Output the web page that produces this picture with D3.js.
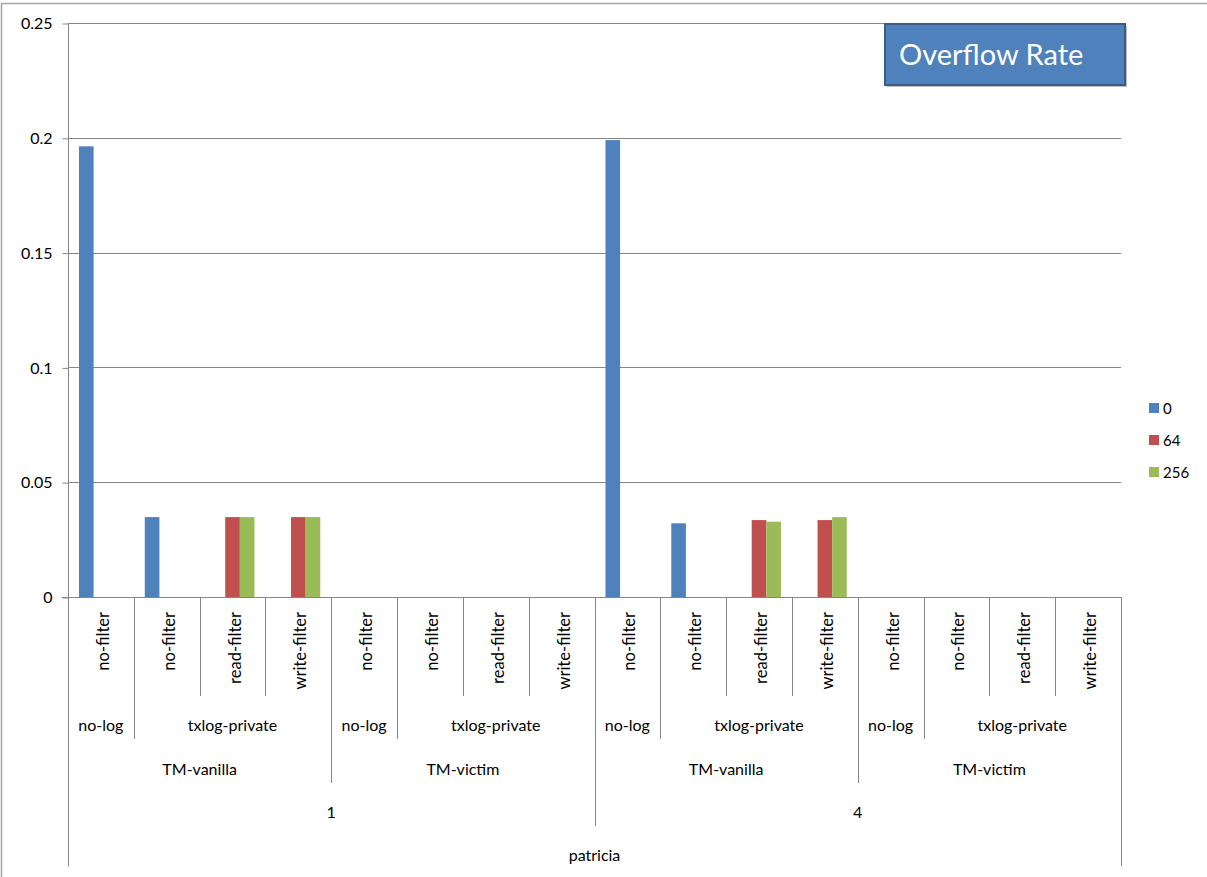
<!DOCTYPE html>
<html>
<head>
<meta charset="utf-8">
<script src="https://cdn.jsdelivr.net/npm/d3@7"></script>
<style>
  html, body { margin: 0; padding: 0; background: #fff; }
  svg { display: block; font-family: Lato, "Open Sans", sans-serif; }
</style>
</head>
<body>
<svg id="chart" width="1207" height="877"></svg>
<script>
// Category hierarchy (outermost first)
const benchmarks = ["patricia"];
const threads = ["1", "4"];
const tmVariants = ["TM-vanilla", "TM-victim"];
const logGroups = [
  { name: "no-log", filters: ["no-filter"] },
  { name: "txlog-private", filters: ["no-filter", "read-filter", "write-filter"] }
];

// Series (legend keys) and their values per leaf category, in leaf order
const seriesNames = ["0", "64", "256"];
const seriesColors = ["#4F81BD", "#C0504D", "#9BBB59"];
const values0 = [0.1963, 0.0348, null, null, null, null, null, null,
                 0.1990, 0.0321, null, null, null, null, null, null];
const values64 = [null, null, 0.0348, 0.0348, null, null, null, null,
                  null, null, 0.0335, 0.0335, null, null, null, null];
const values256 = [null, null, 0.0348, 0.0348, null, null, null, null,
                   null, null, 0.0328, 0.0348, null, null, null, null];
const yTicks = [0, 0.05, 0.1, 0.15, 0.2, 0.25];
const yTickLabels = ["0", "0.05", "0.1", "0.15", "0.2", "0.25"];
const chartTitle = "Overflow Rate";

const seriesValues = [values0, values64, values256];

// Flatten the hierarchy into leaf categories
const leaves = [];
benchmarks.forEach(b => threads.forEach(t => tmVariants.forEach(tm =>
  logGroups.forEach(lg => lg.filters.forEach(f =>
    leaves.push({ bench: b, thread: t, tm: tm, log: lg.name, filter: f }))))));

const svg = d3.select("#chart");
const plotLeft = 68, plotRight = 1121, plotTop = 23, plotBottom = 597;
const axisColor = "#868686";
const textColor = "#000";

// Outer chart frame
svg.append("line").attr("x1", 1.5).attr("x2", 1.5).attr("y1", 3).attr("y2", 877)
  .attr("stroke", "#a6a6a6").attr("stroke-width", 1.5);
svg.append("line").attr("x1", 1).attr("x2", 1207).attr("y1", 3.5).attr("y2", 3.5)
  .attr("stroke", "#a6a6a6").attr("stroke-width", 1.5);

const x = d3.scaleBand().domain(d3.range(leaves.length)).range([plotLeft, plotRight]).padding(0);
const xInner = d3.scaleBand().domain(seriesNames).range([0, x.bandwidth()])
  .paddingInner(0).paddingOuter(0.75);
const y = d3.scaleLinear().domain([0, 0.25]).range([plotBottom, plotTop]);

// Gridlines
svg.append("g").selectAll("line").data(yTicks.filter(v => v > 0)).join("line")
  .attr("x1", plotLeft).attr("x2", plotRight)
  .attr("y1", d => Math.round(y(d)) + 0.5).attr("y2", d => Math.round(y(d)) + 0.5)
  .attr("stroke", axisColor).attr("stroke-width", 1);

// Y axis
const yAxis = d3.axisLeft(y).tickValues(yTicks)
  .tickFormat((d, i) => yTickLabels[i]).tickSize(6).tickPadding(10);
const gy = svg.append("g").attr("transform", `translate(${plotLeft + 0.5},0.5)`).call(yAxis);
gy.select(".domain").attr("stroke", axisColor).attr("d", `M0,${plotTop - 0.5}V866`);
gy.selectAll(".tick line").attr("stroke", axisColor);
gy.selectAll(".tick text").attr("fill", textColor).style("font-size", "16px")
  .style("font-family", "Lato, sans-serif");

// Bars
seriesNames.forEach((s, si) => {
  svg.append("g").selectAll("rect")
    .data(seriesValues[si].map((v, i) => ({ v, i })).filter(d => d.v != null && d.v > 0))
    .join("rect")
    .attr("x", d => x(d.i) + xInner(s))
    .attr("width", xInner.bandwidth())
    .attr("y", d => y(d.v))
    .attr("height", d => y(0) - y(d.v))
    .attr("fill", seriesColors[si]);
});

// X axis baseline
svg.append("line").attr("x1", plotLeft - 6).attr("x2", plotRight)
  .attr("y1", plotBottom + 0.5).attr("y2", plotBottom + 0.5).attr("stroke", axisColor);

// Multi-level category separators
const perTm = leaves.length / (threads.length * tmVariants.length);
const perThreadLeaves = leaves.length / threads.length;
function sepDepth(i) {
  if (i === 0 || i === leaves.length) return 866;
  if (i % perThreadLeaves === 0) return 826;
  if (i % perTm === 0) return 783;
  if (i % perTm === logGroups[0].filters.length) return 739;
  return 696;
}
const edgeX = i => i === leaves.length ? plotRight : x(i);
svg.append("g").selectAll("line").data(d3.range(leaves.length + 1)).join("line")
  .attr("x1", i => Math.round(edgeX(i)) + 0.5).attr("x2", i => Math.round(edgeX(i)) + 0.5)
  .attr("y1", plotBottom).attr("y2", i => sepDepth(i))
  .attr("stroke", axisColor);

// Leaf labels (rotated)
svg.append("g").selectAll("text").data(leaves).join("text")
  .attr("transform", (d, i) => `translate(${x(i) + x.bandwidth() / 2 + 2},612) rotate(-90)`)
  .attr("text-anchor", "end").attr("dominant-baseline", "central")
  .style("font-size", "16.5px").attr("fill", textColor)
  .text(d => d.filter);

// Group labels for the outer levels
function groupSpans(key) {
  const spans = [];
  leaves.forEach((d, i) => {
    const id = key(d);
    const last = spans[spans.length - 1];
    if (last && last.id === id) last.end = i + 1;
    else spans.push({ id, start: i, end: i + 1 });
  });
  return spans;
}
const levels = [
  { key: d => d.bench + d.thread + d.tm + d.log, label: d => d.log, y: 724 },
  { key: d => d.bench + d.thread + d.tm, label: d => d.tm, y: 768 },
  { key: d => d.bench + d.thread, label: d => d.thread, y: 811 },
  { key: d => d.bench, label: d => d.bench, y: 854 }
];
levels.forEach(lv => {
  const spans = groupSpans(lv.key);
  svg.append("g").selectAll("text").data(spans).join("text")
    .attr("x", s => (edgeX(s.start) + edgeX(s.end)) / 2)
    .attr("y", lv.y)
    .attr("text-anchor", "middle").attr("dominant-baseline", "central")
    .style("font-size", "16px").attr("fill", textColor)
    .text(s => lv.label(leaves[s.start]));
});

// Legend
const legend = svg.append("g");
seriesNames.forEach((s, i) => {
  const ly = 408 + i * 32;
  legend.append("rect").attr("x", 1149).attr("y", ly - 5).attr("width", 10).attr("height", 10)
    .attr("fill", seriesColors[i]);
  legend.append("text").attr("x", 1163).attr("y", ly)
    .attr("dominant-baseline", "central").style("font-size", "15px").attr("fill", textColor)
    .text(s);
});

// Title box with shadow
const tb = svg.append("g");
tb.append("rect").attr("x", 887).attr("y", 26).attr("width", 240).attr("height", 61)
  .attr("fill", "#000").attr("opacity", 0.25);
tb.append("rect").attr("x", 885).attr("y", 24).attr("width", 240).attr("height", 61)
  .attr("fill", "#4F81BD").attr("stroke", "#385D8A").attr("stroke-width", 2);
tb.append("text").attr("x", 899).attr("y", 53).attr("dominant-baseline", "central")
  .style("font-size", "29px").attr("fill", "#fff").text(chartTitle);
</script>
</body>
</html>
